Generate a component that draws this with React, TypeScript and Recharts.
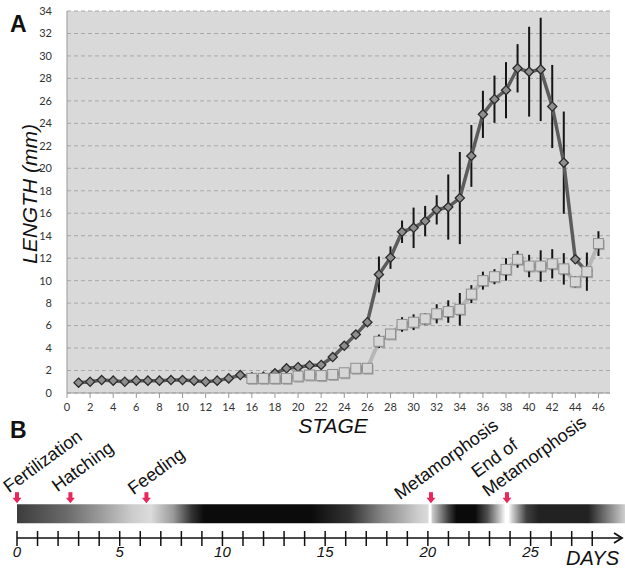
// App.tsx
// Panel A: body length per developmental stage (two series with SD bars).
// Panel B: day timeline with the life-stage shading and event arrows.
import {
  LineChart, Line, CartesianGrid, ErrorBar, XAxis, YAxis,
  ScatterChart, Scatter, ReferenceArea, ReferenceDot,
} from "recharts";

const FONT = "'Liberation Sans', Arial, sans-serif";
const TICK_FONT = "Lato, 'Open Sans', sans-serif";

// ---- panel A data ----
const darkStages = [
  1, 2, 3, 4, 5, 6, 7, 8, 9, 10, 11, 12, 13, 14, 15, 16, 17, 18, 19, 20, 21, 22, 23,
  24, 25, 26, 27, 28, 29, 30, 31, 32, 33, 34, 35, 36, 37, 38, 39, 40, 41, 42, 43, 44, 45,
];
const darkLength = [
  0.92, 1.0, 1.15, 1.1, 1.0, 1.1, 1.1, 1.1, 1.15, 1.15, 1.1, 1.0, 1.1, 1.3, 1.6, 1.4, 1.45, 1.75,
  2.2, 2.3, 2.45, 2.5, 3.2, 4.2, 5.2, 6.3, 10.55, 12.05, 14.35, 14.7, 15.3, 16.3, 16.55, 17.35,
  21.1, 24.8, 26.15, 26.95, 28.9, 28.6, 28.8, 25.5, 20.5, 11.9, 10.8,
];
const darkSd = [
  0, 0, 0, 0, 0, 0, 0, 0, 0, 0, 0, 0, 0, 0, 0, 0, 0, 0, 0, 0, 0, 0, 0, 0, 0, 0,
  1.6, 1.0, 1.0, 1.8, 1.35, 1.3, 2.9, 4.1, 2.75, 2.1, 2.1, 2.5, 2.15, 4.0, 4.6, 3.7, 4.55, 0.4, 0,
];

const lightStages = [
  16, 17, 18, 19, 20, 21, 22, 23, 24, 25, 26, 27, 28, 29, 30, 31, 32, 33, 34, 35, 36, 37, 38,
  39, 40, 41, 42, 43, 44, 45, 46,
];
const lightLength = [
  1.3, 1.3, 1.3, 1.3, 1.5, 1.6, 1.55, 1.65, 1.8, 2.2, 2.2, 4.6, 5.25, 6.1, 6.3, 6.6, 7.05, 7.25,
  7.45, 8.8, 10.0, 10.35, 11.0, 11.9, 11.3, 11.3, 11.5, 11.05, 9.9, 10.8, 13.3,
];
const lightSd = [
  0, 0, 0, 0, 0, 0, 0, 0, 0, 0, 0, 0.6, 0.3, 0.65, 0.7, 0.5, 0.85, 1.0, 1.45, 0.8, 0.8, 0.67,
  1.0, 0.75, 1.0, 1.4, 1.3, 1.4, 0.5, 1.7, 1.1,
];

const stageTicks = [0, 2, 4, 6, 8, 10, 12, 14, 16, 18, 20, 22, 24, 26, 28, 30, 32, 34, 36, 38, 40, 42, 44, 46];
const lengthTicks = [0, 2, 4, 6, 8, 10, 12, 14, 16, 18, 20, 22, 24, 26, 28, 30, 32, 34];

// ---- panel B data ----
const eventNames = ["Fertilization", "Hatching", "Feeding", "Metamorphosis", "End of\nMetamorphosis"];
const eventDays = [0, 2.6, 6.3, 20.15, 23.85];
const dayTicks = [0, 1, 2, 3, 4, 5, 6, 7, 8, 9, 10, 11, 12, 13, 14, 15, 16, 17, 18, 19, 20, 21, 22, 23, 24, 25, 26, 27, 28];
const dayLabels = [0, 5, 10, 15, 20, 25];
// shading along the day bar: day, grey level
const shadeDays = [
  0, 2.4, 4.0, 5.6, 6.5, 7.6, 8.5, 9.1, 14.3, 16.2, 17.8, 19.5, 20.0, 20.06, 20.14, 20.22,
  21.0, 21.4, 22.3, 22.9, 23.6, 23.78, 23.92, 24.1, 24.8, 25.4, 27.8, 28.5, 29.6,
];
const shadeColors = [
  "#3c3c3c", "#6a6a6a", "#999999", "#cccccc", "#dcdcdc", "#9a9a9a", "#333333", "#0b0b0b", "#0b0b0b", "#333333",
  "#888888", "#cccccc", "#dadada", "#ffffff", "#ffffff", "#cacaca",
  "#404040", "#0a0a0a", "#0a0a0a", "#505050", "#d8d8d8", "#ffffff", "#ffffff", "#d0d0d0", "#404040",
  "#222222", "#222222", "#666666", "#cfcfcf",
];

const DAY_MAX = 29.4;
const BAR_END = 29.6;
const BAR_Y = [1.25, 2.86];
const ARROW_Y = 2.95;
// label offsets (px) from arrow tip, one entry per text line
const LABEL_OFFSETS = [
  [[-8, -10]],
  [[-13, -11]],
  [[-13, -8]],
  [[-31, -3]],
  [[-30, -25], [-19, -6]],
];

const darkRows = darkStages.map((s, i) => ({ stage: s, length: darkLength[i], sd: darkSd[i] }));
const lightRows = lightStages.map((s, i) => ({ stage: s, length: lightLength[i], sd: lightSd[i] }));
const eventRows = eventDays.map((d, i) => ({ day: d, y: ARROW_Y, name: eventNames[i], idx: i }));

function DiamondDot(props: any) {
  const { cx, cy, index } = props;
  if (cx == null || cy == null) return <g key={`d${index}`} />;
  const r = 4.6;
  return (
    <path
      key={`d${index}`}
      d={`M${cx},${cy - r}L${cx + r},${cy}L${cx},${cy + r}L${cx - r},${cy}Z`}
      fill="#8e8e8e"
      stroke="#2c2c2c"
      strokeWidth={1.3}
    />
  );
}

function SquareDot(props: any) {
  const { cx, cy, index } = props;
  if (cx == null || cy == null) return <g key={`s${index}`} />;
  const h = 5;
  return (
    <g key={`s${index}`}>
      <rect x={cx - h + 1.2} y={cy - h + 1.5} width={2 * h} height={2 * h} fill="rgba(0,0,0,0.22)" />
      <rect x={cx - h} y={cy - h} width={2 * h} height={2 * h} fill="#d6d6d6" stroke="#8e8e8e" strokeWidth={1} />
    </g>
  );
}

function DayTick(props: any) {
  const { x, y, payload } = props;
  const v = payload.value;
  return (
    <g>
      <line x1={x} x2={x} y1={y - 7} y2={y + 8} stroke="#111" strokeWidth={1.5} />
      {dayLabels.includes(v) && (
        <text x={x} y={y + 19} textAnchor="middle" fontSize={15} fontStyle="italic" fill="#111" fontFamily={FONT}>
          {v}
        </text>
      )}
    </g>
  );
}

function EventMarker(props: any) {
  const { cx, cy, payload } = props;
  const lines = String(payload.name).split("\n");
  const offs = LABEL_OFFSETS[payload.idx] || [[-12, -8]];
  return (
    <g>
      <rect x={cx - 2} y={cy - 11} width={4} height={6} fill="#e8275c" />
      <path d={`M${cx - 4.5},${cy - 5.5}L${cx + 4.5},${cy - 5.5}L${cx},${cy}Z`} fill="#e8275c" />
      {lines.map((t, i) => {
        const [dx, dy] = offs[i] || offs[0];
        const tx = cx + dx;
        const ty = cy + dy;
        return (
          <text
            key={i}
            x={tx}
            y={ty}
            transform={`rotate(-36 ${tx} ${ty})`}
            fontSize={18}
            fill="#111"
            fontFamily={FONT}
          >
            {t}
          </text>
        );
      })}
    </g>
  );
}

function AxisArrow(props: any) {
  const { cx, cy } = props;
  return (
    <path d={`M${cx - 8},${cy - 5}L${cx},${cy}L${cx - 8},${cy + 5}`} fill="none" stroke="#111" strokeWidth={1.8} />
  );
}

export default function App() {
  return (
    <div style={{ position: "absolute", left: 0, top: 0, width: 625, height: 568, background: "#fff", overflow: "hidden" }}>
      <div style={{ position: "absolute", left: 0, top: 0 }}>
        <LineChart width={625} height={440} margin={{ top: 11, right: 15, left: 0, bottom: 17 }}>
          <CartesianGrid vertical={false} stroke="#a8a8a8" strokeDasharray="4 3" fill="#d9d9d9" />
          <XAxis
            type="number"
            dataKey="stage"
            domain={[0, 47]}
            ticks={stageTicks}
            interval={0}
            allowDataOverflow
            height={30}
            tick={{ fontSize: 11, fill: "#333", fontFamily: TICK_FONT }}
            tickSize={5}
            tickMargin={5}
            stroke="#999"
          />
          <YAxis
            type="number"
            domain={[0, 34]}
            ticks={lengthTicks}
            interval={0}
            width={67}
            tick={{ fontSize: 11, fill: "#333", fontFamily: TICK_FONT }}
            tickLine={false}
            tickMargin={9}
            stroke="#999"
          />
          <Line
            data={darkRows}
            dataKey="length"
            stroke="#5c5c5c"
            strokeWidth={3.5}
            dot={DiamondDot}
            activeDot={false}
            isAnimationActive={false}
          >
            <ErrorBar dataKey="sd" width={0} stroke="#151515" strokeWidth={2} />
          </Line>
          <Line
            data={lightRows}
            dataKey="length"
            stroke="#b6b6b6"
            strokeWidth={4}
            dot={SquareDot}
            activeDot={false}
            isAnimationActive={false}
          >
            <ErrorBar dataKey="sd" width={0} stroke="#151515" strokeWidth={2} />
          </Line>
        </LineChart>
      </div>

      <div style={{ position: "absolute", left: 0, top: 410 }}>
        <ScatterChart width={625} height={158} margin={{ top: 10, right: 4, left: 17, bottom: 0 }} style={{ overflow: "visible" }}>
          <defs>
            <linearGradient id="dayShade" x1="0" y1="0" x2="1" y2="0">
              {shadeDays.map((d, i) => (
                <stop key={i} offset={d / BAR_END} stopColor={shadeColors[i]} />
              ))}
            </linearGradient>
          </defs>
          <XAxis
            type="number"
            dataKey="day"
            domain={[0, DAY_MAX]}
            ticks={dayTicks}
            interval={0}
            height={30}
            tick={<DayTick />}
            tickLine={false}
            tickSize={0}
            tickMargin={0}
            axisLine={{ stroke: "#111", strokeWidth: 1.6 }}
          />
          <YAxis type="number" dataKey="y" domain={[0, 10]} hide />
          <ReferenceArea
            x1={0}
            x2={BAR_END}
            y1={BAR_Y[0]}
            y2={BAR_Y[1]}
            fill="url(#dayShade)"
            fillOpacity={1}
            stroke="none"
            ifOverflow="visible"
          />
          <ReferenceDot x={29.45} y={0} r={0} shape={AxisArrow} ifOverflow="visible" />
          <Scatter data={eventRows} dataKey="y" shape={EventMarker} isAnimationActive={false} />
        </ScatterChart>
      </div>

      <svg
        width={625}
        height={568}
        style={{ position: "absolute", left: 0, top: 0, pointerEvents: "none" }}
      >
        <text x={10} y={32} fontSize={23} fontWeight="bold" fontFamily={FONT} fill="#111">A</text>
        <text x={10} y={438} fontSize={23} fontWeight="bold" fontFamily={FONT} fill="#111">B</text>
        <text
          x={0}
          y={0}
          transform="translate(36.5,194) rotate(-90)"
          textAnchor="middle"
          fontSize={21}
          fontStyle="italic"
          fontFamily={FONT}
          fill="#111"
        >
          LENGTH (mm)
        </text>
        <text x={333} y={433} textAnchor="middle" fontSize={21} fontStyle="italic" fontFamily={FONT} fill="#111">
          STAGE
        </text>
        <text x={566} y={565} fontSize={20} fontStyle="italic" fontFamily={FONT} fill="#111">DAYS</text>
      </svg>
    </div>
  );
}
